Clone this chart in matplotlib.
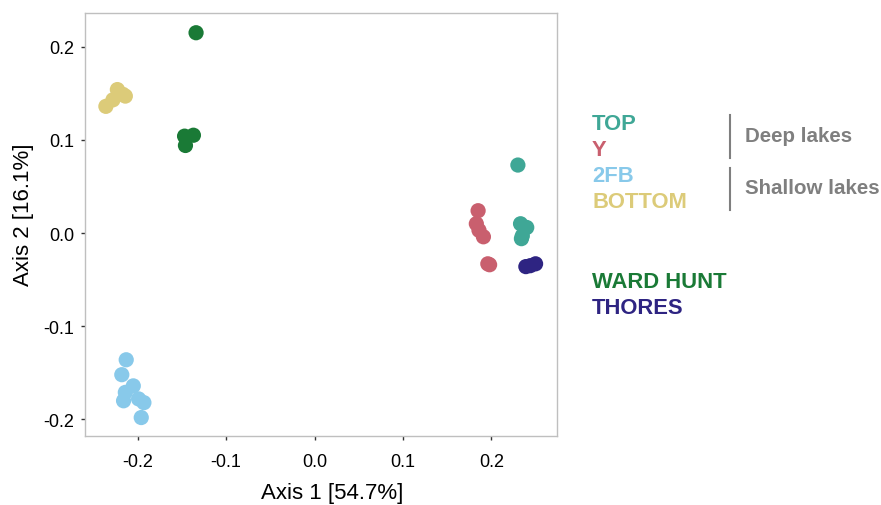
import matplotlib
matplotlib.use("Agg")
from matplotlib import pyplot as plt
from matplotlib.lines import Line2D

plt.rcParams['font.family'] = ['Liberation Sans', 'DejaVu Sans']

# PCoA coordinates per lake
top_x = [0.230, 0.233, 0.240, 0.235, 0.234]
top_y = [0.073, 0.010, 0.006, -0.003, -0.006]
y_x = [0.185, 0.183, 0.186, 0.191, 0.196, 0.198]
y_y = [0.024, 0.010, 0.003, -0.004, -0.033, -0.034]
fb_x = [-0.213, -0.218, -0.205, -0.214, -0.216, -0.199, -0.193, -0.196]
fb_y = [-0.136, -0.152, -0.164, -0.171, -0.180, -0.178, -0.182, -0.198]
bottom_x = [-0.236, -0.223, -0.214, -0.228, -0.217]
bottom_y = [0.136, 0.154, 0.147, 0.143, 0.149]
ward_x = [-0.134, -0.147, -0.137, -0.146]
ward_y = [0.215, 0.104, 0.105, 0.094]
thores_x = [0.239, 0.244, 0.250]
thores_y = [-0.036, -0.035, -0.033]

lakes = ['TOP', 'Y', '2FB', 'BOTTOM', 'WARD HUNT', 'THORES']
colors = ['#3fa796', '#c95f6e', '#88c9ea', '#dccb79', '#1a7a36', '#2e2482']
xs = [top_x, y_x, fb_x, bottom_x, ward_x, thores_x]
ys = [top_y, y_y, fb_y, bottom_y, ward_y, thores_y]

fig = plt.figure(figsize=(8.81, 5.06), dpi=100)
ax = fig.add_axes([0.0965, 0.136, 0.5355, 0.836])

for x, y, c in zip(xs, ys, colors):
    ax.scatter(x, y, s=120, color=c, edgecolors='none', zorder=3)

ax.set_xlim(-0.2596, 0.274)
ax.set_ylim(-0.218, 0.236)
ax.set_xticks([-0.2, -0.1, 0.0, 0.1, 0.2])
ax.set_yticks([-0.2, -0.1, 0.0, 0.1, 0.2])
ax.set_xticklabels(['-0.2', '-0.1', '0.0', '0.1', '0.2'])
ax.set_yticklabels(['-0.2', '-0.1', '0.0', '0.1', '0.2'])
ax.tick_params(labelsize=13, length=3, width=1, color='#333333', labelcolor='black')
ax.tick_params(axis='x', pad=9)
ax.tick_params(axis='y', pad=5)
for s in ax.spines.values():
    s.set_color('#bfbfbf')
    s.set_linewidth(1)
ax.set_xlabel('Axis 1 [54.7%]', fontsize=16)
ax.set_ylabel('Axis 2 [16.1%]', fontsize=16)
ax.xaxis.set_label_coords(0.523, -0.108)
ax.yaxis.set_label_coords(-0.108, 0.525)

# lake labels on the right
label_y = [124, 151, 177, 203, 282, 309]
for name, c, py in zip(lakes, colors, label_y):
    fig.text(592 / 881, 1 - py / 506, name, color=c, fontsize=15.8,
             fontweight='bold', va='center', ha='left')

grey = '#7f7f7f'
fig.add_artist(Line2D([730 / 881, 730 / 881], [1 - 116 / 506, 1 - 159 / 506],
                      color=grey, lw=1.5))
fig.add_artist(Line2D([730 / 881, 730 / 881], [1 - 169 / 506, 1 - 211 / 506],
                      color=grey, lw=1.5))
fig.text(745 / 881, 1 - 137 / 506, 'Deep lakes', color=grey, fontsize=14.8,
         fontweight='bold', va='center', ha='left')
fig.text(745 / 881, 1 - 189 / 506, 'Shallow lakes', color=grey, fontsize=14.8,
         fontweight='bold', va='center', ha='left')

fig.savefig('out.png', dpi=100)
